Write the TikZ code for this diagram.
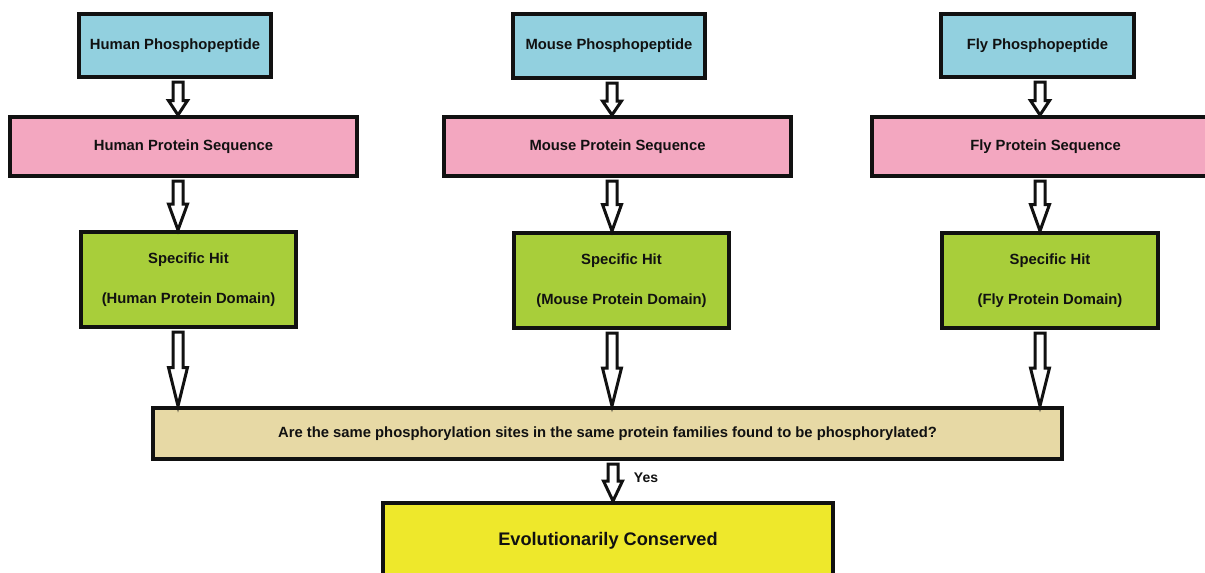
\documentclass[tikz,border=0pt]{standalone}
\usepackage{fontspec}
\setmainfont{Liberation Sans}
\usetikzlibrary{calc}
\definecolor{cblue}{HTML}{92D0DF}
\definecolor{cpink}{HTML}{F3A7C0}
\definecolor{cgreen}{HTML}{A8CE3A}
\definecolor{ctan}{HTML}{E7D9A5}
\definecolor{cyellow}{HTML}{EEE82B}
\definecolor{ink}{HTML}{111111}
\tikzset{
  box/.style={draw=ink, line width=4pt, rectangle, inner sep=0pt, align=center,
    font=\fontsize{14.8}{40}\selectfont\bfseries, text=ink},
  blockarr/.style={draw=ink, fill=white, line width=3pt, line join=miter},
  lbl/.style={font=\fontsize{14}{17}\selectfont\bfseries, text=ink, inner sep=0pt}
}
\newcommand\blockarrow[3]{%
  \draw[blockarr] let \p1=#1, \p2=#2, \p3=($#1!#3!#2$) in
    (\x1-5pt,\y1-3pt) -- (\x1-5pt,\y3) -- (\x1-9.5pt,\y3) -- (\x1,\y2)
    -- (\x1+9.5pt,\y3) -- (\x1+5pt,\y3) -- (\x1+5pt,\y1-3pt) -- cycle;}
\begin{document}
\begin{tikzpicture}[x=1pt,y=-1pt]
\clip (0,0) rectangle (1205,573);
\fill[white] (0,0) rectangle (1205,573);
% column axes
\coordinate (hx) at (178,0);
\coordinate (mx) at (612,0);
\coordinate (fx) at (1040,0);
\coordinate (yx) at (613,0);
% row 1
\node[box, fill=cblue, minimum width=192pt, minimum height=63pt] (hp) at (175,45.5) {Human Phosphopeptide};
\node[box, fill=cblue, minimum width=192pt, minimum height=64pt] (mp) at (609,46) {Mouse Phosphopeptide};
\node[box, fill=cblue, minimum width=193pt, minimum height=63pt] (fp) at (1037.5,45.5) {Fly Phosphopeptide};
% row 2
\node[box, fill=cpink, minimum width=347pt, minimum height=59pt] (hs) at (183.5,146.5) {Human Protein Sequence};
\node[box, fill=cpink, minimum width=347pt, minimum height=59pt] (ms) at (617.5,146.5) {Mouse Protein Sequence};
\node[box, fill=cpink, minimum width=347pt, minimum height=59pt] (fs) at (1045.5,146.5) {Fly Protein Sequence};
% row 3
\node[box, fill=cgreen, minimum width=215pt, minimum height=95pt] (hh) at (188.5,279.5) {Specific Hit\\(Human Protein Domain)};
\node[box, fill=cgreen, minimum width=215pt, minimum height=95pt] (mh) at (621.5,280.5) {Specific Hit\\(Mouse Protein Domain)};
\node[box, fill=cgreen, minimum width=216pt, minimum height=95pt] (fh) at (1050,280.5) {Specific Hit\\(Fly Protein Domain)};
% question
\node[box, fill=ctan, minimum width=909pt, minimum height=51pt] (q) at (607.5,433.5) {Are the same phosphorylation sites in the same protein families found to be phosphorylated?};
% result
\node[box, fill=cyellow, minimum width=450pt, minimum height=76pt, font=\fontsize{18.2}{22}\selectfont\bfseries] (ev) at (608,541) {Evolutionarily Conserved};
% arrows
\blockarrow{(hp.south -| hx)}{(hs.north -| hx)}{0.6}
\blockarrow{(mp.south -| mx)}{(ms.north -| mx)}{0.6}
\blockarrow{(fp.south -| fx)}{(fs.north -| fx)}{0.6}
\blockarrow{(hs.south -| hx)}{(hh.north -| hx)}{0.5}
\blockarrow{(ms.south -| mx)}{(mh.north -| mx)}{0.5}
\blockarrow{(fs.south -| fx)}{(fh.north -| fx)}{0.5}
\blockarrow{(hh.south -| hx)}{(q.north -| hx)}{0.5}
\blockarrow{(mh.south -| mx)}{(q.north -| mx)}{0.5}
\blockarrow{(fh.south -| fx)}{(q.north -| fx)}{0.5}
\blockarrow{(q.south -| yx)}{(ev.north -| yx)}{0.5}
\node[lbl] (yes) at (646,478) {Yes};
\end{tikzpicture}
\end{document}
